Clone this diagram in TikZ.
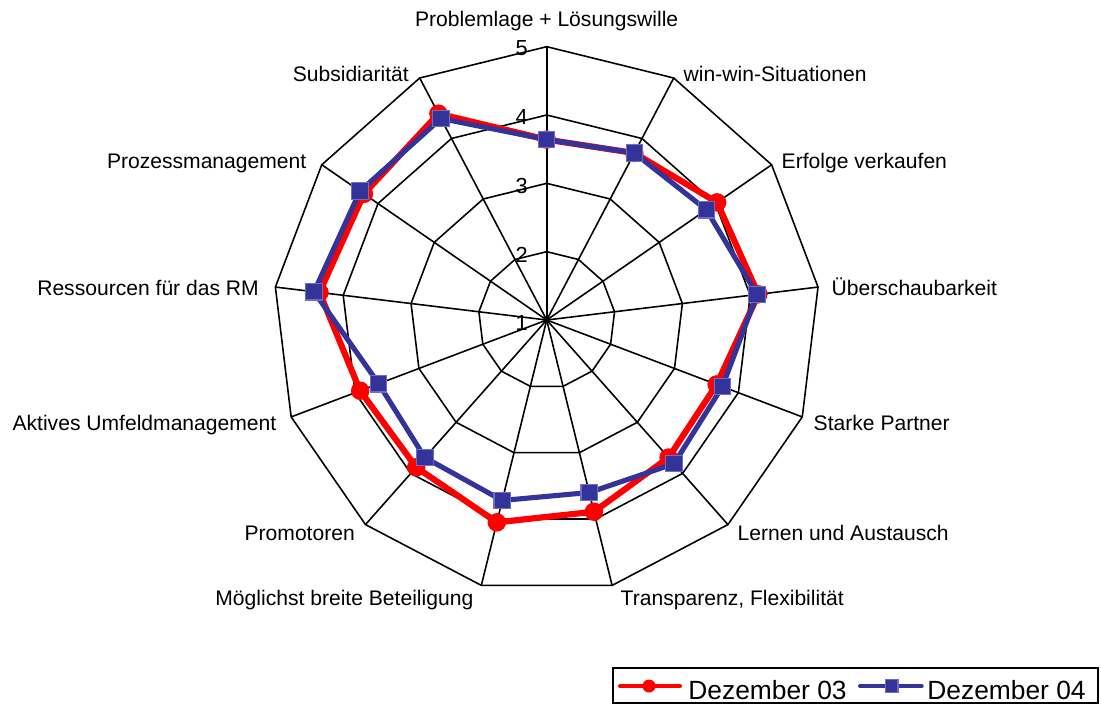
\documentclass[tikz,border=0pt]{standalone}
\usepackage{fontspec}
\setmainfont{Liberation Sans}
\definecolor{blue04}{RGB}{51,51,153}
\definecolor{blueedge}{RGB}{110,110,200}
\begin{document}
\begin{tikzpicture}[x=1cm,y=1cm,
  gridline/.style={black, line width=0.45pt, line join=miter},
  lab/.style={font=\fontsize{6}{7}\selectfont, inner sep=0pt},
  ticklab/.style={font=\fontsize{6.2}{7}\selectfont, inner sep=0pt, anchor=base},
  leglab/.style={font=\fontsize{7.5}{9}\selectfont, inner sep=0pt, anchor=base west},
  ser03/.style={red, line width=1.75pt, line join=round},
  ser04/.style={blue04, line width=1.45pt, line join=round},
  mk03/.style={circle, fill=red, inner sep=0pt, minimum size=0.185cm},
  mk04/.style={rectangle, fill=blue04, draw=blueedge, line width=0.3pt, inner sep=0pt, minimum size=0.165cm},
  legmk03/.style={circle, fill=red, inner sep=0pt, minimum size=0.13cm},
  legmk04/.style={rectangle, fill=blue04, draw=blueedge, line width=0.3pt, inner sep=0pt, minimum size=0.125cm},
]
\useasboundingbox (0,0) rectangle (11.01,7.04);
\def\u{0.6833}
\begin{scope}[shift={(5.467,3.84)}]
  \coordinate (O) at (0,0);
  % spokes
  \foreach \k in {0,...,12}{
    \coordinate (v\k) at ({90-\k*360/13}:{4*\u});
    \draw[gridline] (O) -- (v\k);
  }
  % level polygons
  \foreach \lv in {1,2,3,4}{
    \draw[gridline] (90:{\lv*\u}) \foreach \k in {1,...,12}{ -- ({90-\k*360/13}:{\lv*\u}) } -- cycle;
  }
  % data
  \foreach \v [count=\k from 0] in {3.64,3.76,4.03,4.12,3.66,3.69,3.89,4.05,3.88,3.92,4.35,4.25,4.41}{
    \coordinate (r\k) at ({90-\k*360/13}:{(\v-1)*\u});
  }
  \foreach \v [count=\k from 0] in {3.64,3.76,3.84,4.10,3.75,3.81,3.60,3.72,3.69,3.63,4.43,4.32,4.33}{
    \coordinate (b\k) at ({90-\k*360/13}:{(\v-1)*\u});
  }
  \draw[ser03] (r0) \foreach \k in {1,...,12}{ -- (r\k) } -- cycle;
  \foreach \k in {0,...,12}{ \node[mk03] (m03-\k) at (r\k) {}; }
  \draw[ser04] (b0) \foreach \k in {1,...,12}{ -- (b\k) } -- cycle;
  \foreach \k in {0,...,12}{ \node[mk04] (m04-\k) at (b\k) {}; }
\end{scope}
% tick labels
\node[ticklab] (t5) at (5.217,6.48) {5};
\node[ticklab] (t4) at (5.217,5.79) {4};
\node[ticklab] (t3) at (5.217,5.11) {3};
\node[ticklab] (t2) at (5.217,4.42) {2};
\node[ticklab] (t1) at (5.217,3.74) {1};
% axis labels
\node[lab, anchor=base] (a0) at (5.467,6.77) {Problemlage + Lösungswille};
\node[lab, anchor=base west] (a1) at (6.83,6.225) {win-win-Situationen};
\node[lab, anchor=base west] (a2) at (7.81,5.35) {Erfolge verkaufen};
\node[lab, anchor=base west] (a3) at (8.31,4.09) {Überschaubarkeit};
\node[lab, anchor=base west] (a4) at (8.13,2.735) {Starke Partner};
\node[lab, anchor=base west] (a5) at (7.37,1.635) {Lernen und Austausch};
\node[lab, anchor=base west] (a6) at (6.20,0.99) {Transparenz, Flexibilität};
\node[lab, anchor=base east] (a7) at (4.74,0.99) {Möglichst breite Beteiligung};
\node[lab, anchor=base east] (a8) at (3.555,1.635) {Promotoren};
\node[lab, anchor=base east] (a9) at (2.77,2.735) {Aktives Umfeldmanagement};
\node[lab, anchor=base east] (a10) at (2.595,4.09) {Ressourcen für das RM};
\node[lab, anchor=base east] (a11) at (3.07,5.35) {Prozessmanagement};
\node[lab, anchor=base east] (a12) at (4.095,6.225) {Subsidiarität};
% legend
\draw[black, line width=0.5pt] (6.127,0.01) rectangle (10.98,0.36);
\coordinate (l03a) at (6.20,0.18);
\coordinate (l03b) at (6.80,0.18);
\coordinate (l04a) at (8.60,0.18);
\coordinate (l04b) at (9.217,0.18);
\draw[red, line width=1.15pt, line cap=round] (l03a) -- (l03b);
\node[legmk03] (lm03) at (6.49,0.18) {};
\draw[blue04, line width=1.15pt, line cap=round] (l04a) -- (l04b);
\node[legmk04] (lm04) at (8.917,0.18) {};
\node[leglab] (lt03) at (6.877,0.05) {Dezember 03};
\node[leglab] (lt04) at (9.267,0.05) {Dezember 04};
\end{tikzpicture}
\end{document}
